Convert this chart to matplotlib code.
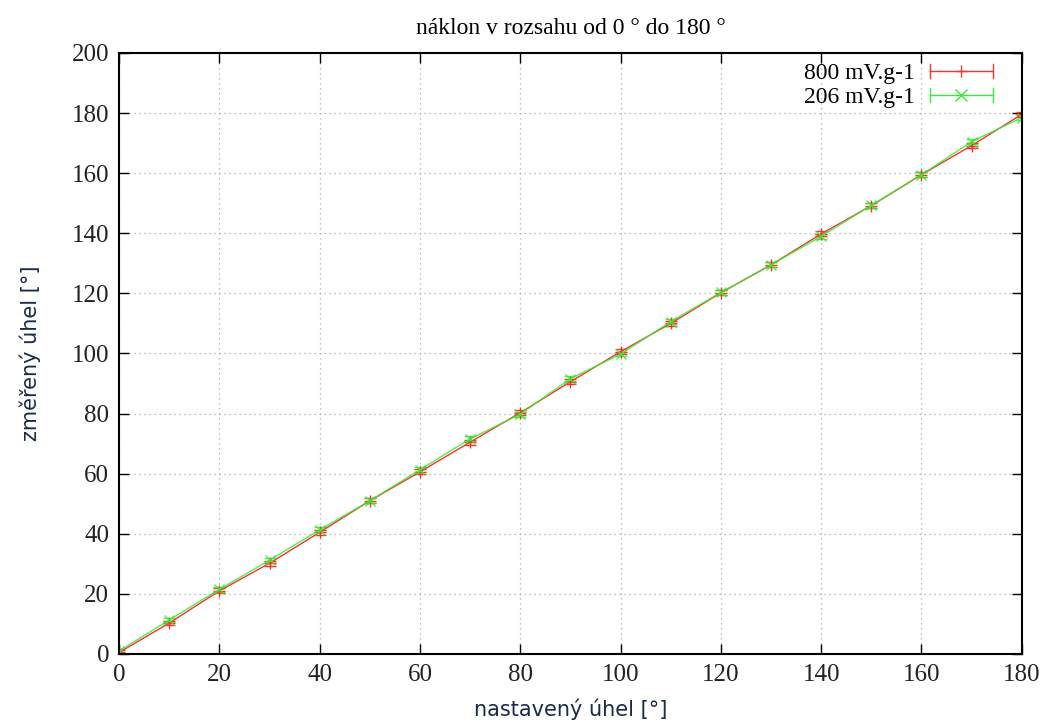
import numpy as np
import matplotlib.pyplot as plt
from matplotlib.legend_handler import HandlerBase
from matplotlib.lines import Line2D

# nastavené úhly a změřené hodnoty
nastaveny = [0, 10, 20, 30, 40, 50, 60, 70, 80, 90, 100, 110, 120, 130, 140, 150, 160, 170, 180]
zmereny_800 = [0.5, 10.3, 21.0, 30.2, 40.5, 51.0, 60.6, 70.5, 80.3, 90.6, 100.6, 110.0, 120.2,
               129.5, 139.8, 149.2, 159.5, 169.2, 179.6]
zmereny_206 = [1.0, 11.3, 21.5, 31.2, 41.3, 51.0, 61.3, 71.6, 79.8, 91.6, 99.8, 110.6, 120.3,
               129.5, 139.0, 149.3, 159.5, 170.5, 178.5]
chyba_800 = [0.8] * len(nastaveny)
chyba_206 = [0.8] * len(nastaveny)

serif = ['Liberation Serif', 'DejaVu Serif']


class GnuplotKey(HandlerBase):
    # vodorovná úsečka s kolmými konci a značkou uprostřed, jako v gnuplotu
    def create_artists(self, legend, orig, xd, yd, w, h, fontsize, trans):
        c, m = orig
        y = h / 2 - yd
        x0, x1 = -xd, w - xd
        art = [Line2D([x0, x1], [y, y], color=c, lw=1, transform=trans),
               Line2D([x0, x0], [y - 5, y + 5], color=c, lw=1, transform=trans),
               Line2D([x1, x1], [y - 5, y + 5], color=c, lw=1, transform=trans),
               Line2D([(x0 + x1) / 2], [y], color=c, marker=m, ms=9, transform=trans)]
        return art


fig = plt.figure(figsize=(10.48, 7.22), dpi=100)
ax = fig.add_axes([0.1136, 0.0942, 0.8614, 0.8324])

ax.errorbar(nastaveny, zmereny_800, yerr=chyba_800, fmt='-+', color='#ff3030', lw=1,
            ms=8, capsize=4, elinewidth=1)
ax.errorbar(nastaveny, zmereny_206, yerr=chyba_206, fmt='-x', color='#30ee30', lw=1,
            ms=7, capsize=4, elinewidth=1, alpha=0.85)

ax.set_xlim(0, 180)
ax.set_ylim(0, 200)
ax.set_xticks(np.arange(0, 181, 20))
ax.set_yticks(np.arange(0, 201, 20))
ax.grid(True, linestyle=(0, (1, 3)), color='#aaaaaa', lw=0.9)
ax.tick_params(direction='in', top=True, right=True, length=7, width=1, labelsize=18, pad=7)
for lab in ax.get_xticklabels() + ax.get_yticklabels():
    lab.set_family(serif)
    lab.set_color('#222222')
for s in ax.spines.values():
    s.set_linewidth(1.5)

ax.set_title('náklon v rozsahu od 0 ° do 180 °', fontsize=17, family=serif, pad=14)
ax.set_xlabel('nastavený úhel [°]', fontsize=15, color='#1a2a4a', labelpad=9)
ax.set_ylabel('změřený úhel [°]', fontsize=15, color='#1a2a4a', labelpad=22)

ax.legend([('#ff3030', '+'), ('#30ee30', 'x')], ['800 mV.g-1', '206 mV.g-1'],
          handler_map={tuple: GnuplotKey()}, loc='upper right', frameon=False,
          markerfirst=False, prop={'family': serif, 'size': 17}, handlelength=2.7,
          handletextpad=0.6, borderaxespad=0, borderpad=0.1, labelspacing=0.1,
          bbox_to_anchor=(0.971, 0.988))

plt.savefig('out.png', dpi=100)
